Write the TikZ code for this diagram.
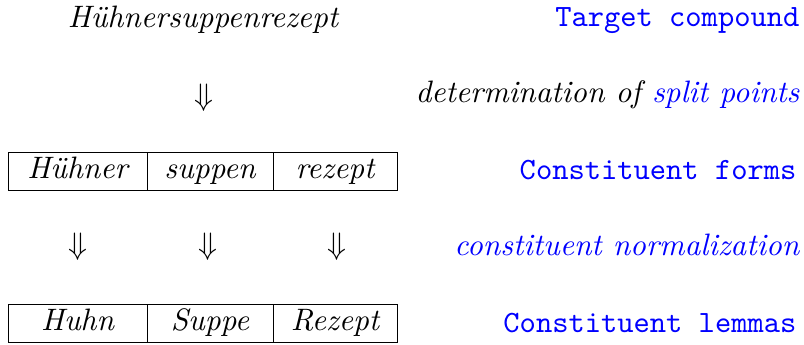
\documentclass[tikz,border=0pt]{standalone}
\usepackage{amsmath,amssymb}
\begin{document}
\begin{tikzpicture}[x=0.3226pt,y=-0.3226pt,
  word/.style={inner sep=0pt,anchor=base,font=\itshape},
  note/.style={inner sep=0pt,anchor=base east},
  cell/.style={draw,line width=0.4pt,inner sep=0pt,minimum height=38*0.3226pt,anchor=north west,font=\itshape},
  darr/.style={inner sep=0pt,anchor=center}]
\useasboundingbox (0,0) rectangle (804,345);

% compound and its description
\node[word] (comp) at (203,28) {Hühnersuppenrezept};
\node[note,text=blue,font=\ttfamily] (ltarget) at (800,27) {Target compound};

% splitting step
\node[darr] (split) at (204,98) {$\Downarrow$};
\node[note,font=\itshape] (lsplit) at (800,103) {determination of \textcolor{blue}{split points}};

% constituent forms
\node[cell,minimum width=139*0.3226pt] (f1) at (8,152) {};
\node[cell,minimum width=126*0.3226pt] (f2) at (147,152) {};
\node[cell,minimum width=124*0.3226pt] (f3) at (273,152) {};
\node[word] (t1) at (77.5,179) {Hühner};
\node[word] (t2) at (210,179) {suppen};
\node[word] (t3) at (335,179) {rezept};
\node[note,text=blue,font=\ttfamily] (lforms) at (797,180) {Constituent forms};

% normalization step
\node[darr] (n1) at (78,247) {$\Downarrow$};
\node[darr] (n2) at (208,247) {$\Downarrow$};
\node[darr] (n3) at (337,247) {$\Downarrow$};
\node[note,text=blue,font=\itshape] (lnorm) at (800,256) {constituent normalization};

% constituent lemmas
\node[cell,minimum width=139*0.3226pt] (l1) at (8,304) {};
\node[cell,minimum width=126*0.3226pt] (l2) at (147,304) {};
\node[cell,minimum width=124*0.3226pt] (l3) at (273,304) {};
\node[word] (u1) at (77.5,331) {Huhn};
\node[word] (u2) at (210,331) {Suppe};
\node[word] (u3) at (335,331) {Rezept};
\node[note,text=blue,font=\ttfamily] (llemma) at (797,332) {Constituent lemmas};
\end{tikzpicture}
\end{document}
